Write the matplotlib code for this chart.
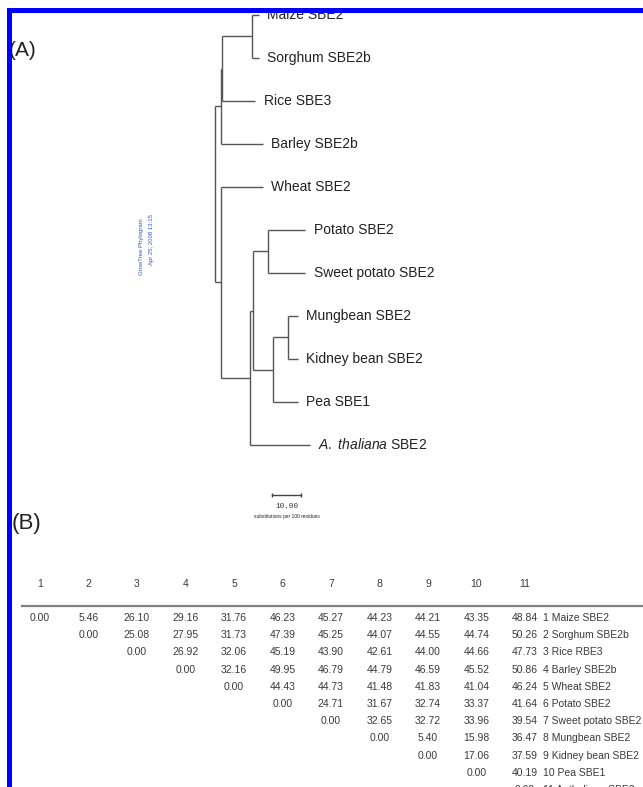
import matplotlib
matplotlib.use("Agg")
import matplotlib.pyplot as plt
from matplotlib.patches import Rectangle

plt.rcParams['font.family'] = ['Liberation Sans', 'DejaVu Sans']
plt.rcParams['mathtext.fontset'] = 'custom'
plt.rcParams['mathtext.rm'] = 'Liberation Sans'
plt.rcParams['mathtext.it'] = 'Liberation Sans:italic'

# phylogram, branch lengths in substitutions per 100 residues
newick = ("((((Maize SBE2:2.4,Sorghum SBE2b:2.4):10.3,Rice SBE3:11.6):0.3,"
          "Barley SBE2b:14.4):2.0,(Wheat SBE2:14.4,(((Potato SBE2:13.0,"
          "Sweet potato SBE2:13.0):5.2,((Mungbean SBE2:3.4,Kidney bean SBE2:3.4):5.2,"
          "Pea SBE1:8.6):6.9):1.0,A. thaliana SBE2:20.7):10.0):2.0);")
scale_len = 10.0

# distance matrix (upper triangle, row i starts at column i)
col_labels = [str(i) for i in range(1, 12)]
row_labels = ["1 Maize SBE2", "2 Sorghum SBE2b", "3 Rice RBE3", "4 Barley SBE2b",
              "5 Wheat SBE2", "6 Potato SBE2", "7 Sweet potato SBE2",
              "8 Mungbean SBE2", "9 Kidney bean SBE2", "10 Pea SBE1",
              "11 A. thaliana SBE2"]
dist_rows = [
    [0.00, 5.46, 26.10, 29.16, 31.76, 46.23, 45.27, 44.23, 44.21, 43.35, 48.84],
    [0.00, 25.08, 27.95, 31.73, 47.39, 45.25, 44.07, 44.55, 44.74, 50.26],
    [0.00, 26.92, 32.06, 45.19, 43.90, 42.61, 44.00, 44.66, 47.73],
    [0.00, 32.16, 49.95, 46.79, 44.79, 46.59, 45.52, 50.86],
    [0.00, 44.43, 44.73, 41.48, 41.83, 41.04, 46.24],
    [0.00, 24.71, 31.67, 32.74, 33.37, 41.64],
    [0.00, 32.65, 32.72, 33.96, 39.54],
    [0.00, 5.40, 15.98, 36.47],
    [0.00, 17.06, 37.59],
    [0.00, 40.19],
    [0.00],
]


def parse(s):
    pos = 0

    def node():
        nonlocal pos
        kids = []
        if s[pos] == '(':
            pos += 1
            while True:
                kids.append(node())
                if s[pos] == ',':
                    pos += 1
                    continue
                pos += 1
                break
        start = pos
        while s[pos] not in ',);':
            pos += 1
        name, _, length = s[start:pos].partition(':')
        return {'name': name, 'len': float(length) if length else 0.0, 'kids': kids}

    return node()


def layout(nd, x0, counter):
    nd['x'] = x0 + nd['len']
    if not nd['kids']:
        nd['y'] = counter[0]
        counter[0] += 1
    else:
        for k in nd['kids']:
            layout(k, nd['x'], counter)
        nd['y'] = (nd['kids'][0]['y'] + nd['kids'][-1]['y']) / 2


W, H = 643, 787
fig = plt.figure(figsize=(W / 100, H / 100), dpi=100)
fig.patch.set_facecolor('white')

# tree axes, mapped so that root sits near x=215px and rows are 43px apart
root_px, px_unit, top_px, row_px = 215, 2.9, 15, 43
ax = fig.add_axes([0, 0, 1, 1])
ax.set_xlim(-root_px / px_unit, (W - root_px) / px_unit)
ax.set_ylim((H - top_px) / row_px, -top_px / row_px)
ax.axis('off')

tree = parse(newick)
tree['len'] = 0.0
layout(tree, 0.0, [0])

line_kw = dict(color='#555555', lw=1.0, solid_capstyle='butt')
italic = {"A. thaliana SBE2": r"$\it{A.}$ $\it{thaliana}$ SBE2"}


def draw(nd):
    if nd['kids']:
        ax.plot([nd['x'], nd['x']], [nd['kids'][0]['y'], nd['kids'][-1]['y']], **line_kw)
        for k in nd['kids']:
            ax.plot([nd['x'], k['x']], [k['y'], k['y']], **line_kw)
            draw(k)
    else:
        ax.annotate(italic.get(nd['name'], nd['name']), (nd['x'], nd['y']),
                    xytext=(6, 0), textcoords='offset points',
                    ha='left', va='center', fontsize=10, color='#222222')


draw(tree)

# scale bar
sb_x = 19.7
sb_y = 11.16
ax.plot([sb_x, sb_x + scale_len], [sb_y, sb_y], color='#444444', lw=1.0)
ax.plot([sb_x, sb_x + scale_len], [sb_y, sb_y], ls='none', marker='|',
        ms=3, color='#444444')
ax.text(sb_x + scale_len / 2, sb_y + 0.26, f"{scale_len:.2f}", ha='center',
        va='center', fontsize=5.5, family='Liberation Mono', color='#333333')
ax.text(sb_x + scale_len / 2, sb_y + 0.51, "substitutions per 100 residues",
        ha='center', va='center', fontsize=3.5, color='#222222')

# program stamp
fig.text(142 / W, 1 - 247 / H, "GrowTree Phylogram", rotation=90, ha='center',
         va='center', fontsize=4.3, color='#3355cc')
fig.text(152 / W, 1 - 240 / H, "Apr 25, 2008 13:15", rotation=90, ha='center',
         va='center', fontsize=4.3, color='#3355cc')

# panel letters
fig.text(9 / W, 1 - 50 / H, "(A)", ha='left', va='center', fontsize=15, color='#222222')
fig.text(12 / W, 1 - 524 / H, "(B)", ha='left', va='center', fontsize=16, color='#222222')

# table axes: column j at 40 + 48.5*(j-1) px, row r at 618 + 17.2*(r-1) px
col0_px, col_px, row0_px, rowh_px = 40, 48.5, 618, 17.2
tx = fig.add_axes([0, 0, 1, 1])
tx.set_xlim(1 - col0_px / col_px, 1 + (W - col0_px) / col_px)
tx.set_ylim(1 + (H - row0_px) / rowh_px, 1 - row0_px / rowh_px)
tx.axis('off')
tx.patch.set_alpha(0)

tcol = '#3a3a3a'
for j, lab in enumerate(col_labels, start=1):
    tx.text(j, -1.0, lab, ha='center', va='center', fontsize=7.5, color=tcol)
tx.plot([1 - 18 / col_px, tx.get_xlim()[1]], [0.3, 0.3], color='#808080', lw=1.6)

label_col = 1 + (543 - col0_px) / col_px
for i, vals in enumerate(dist_rows, start=1):
    for k, v in enumerate(vals):
        tx.text(i + k, i, f"{v:.2f}", ha='center', va='center', fontsize=7.5, color=tcol)
    tx.text(label_col, i, row_labels[i - 1], ha='left', va='center', fontsize=7.5, color=tcol)

# blue frame on top and left
fig.add_artist(Rectangle((7 / W, 1 - 13 / H), 1, 5 / H, transform=fig.transFigure,
                         color='#0000ff', lw=0, zorder=20))
fig.add_artist(Rectangle((7 / W, 0), 5 / W, 1 - 8 / H, transform=fig.transFigure,
                         color='#0000ff', lw=0, zorder=20))

fig.savefig('out.png', dpi=100)
